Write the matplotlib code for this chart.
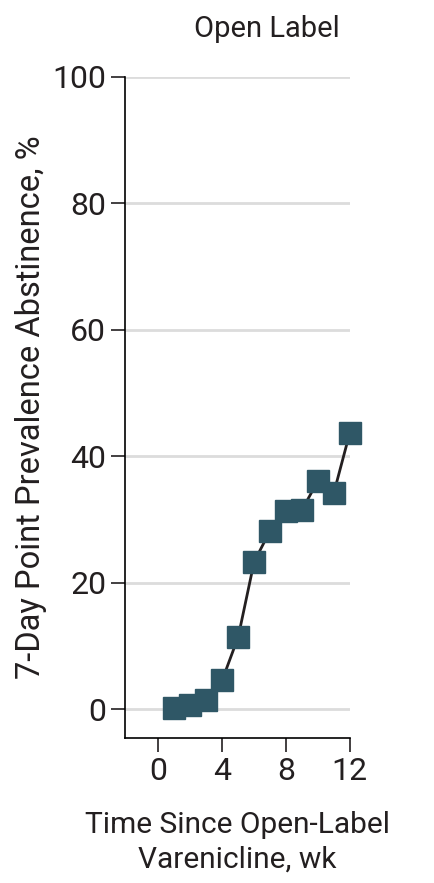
import matplotlib
matplotlib.use("Agg")
import matplotlib.pyplot as plt

# datos
semanas = [1, 2, 3, 4, 5, 6, 7, 8, 9, 10, 11, 12]
abstinencia = [0.2, 0.6, 1.4, 4.6, 11.4, 23.3, 28.2, 31.3, 31.5, 36.1, 34.2, 43.7]
xticks = [0, 4, 8, 12]
yticks = [0, 20, 40, 60, 80, 100]

plt.rcParams['font.family'] = ['Roboto', 'DejaVu Sans']

fig = plt.figure(figsize=(4.34, 8.83), dpi=100)
ax = fig.add_axes([0.288, 0.164, 0.518, 0.749])

for y in yticks:
    ax.axhline(y, color='#dcdcdc', lw=2, zorder=0)

ax.plot(semanas, abstinencia, color='#231f20', lw=2, zorder=2)
ax.plot(semanas, abstinencia, ls='none', marker='s', ms=16, color='#2f5766',
        mec='#2f5766', zorder=3, clip_on=False)

ax.set_xlim(-2.1, 12)
ax.set_ylim(-4.6, 100)
ax.set_xticks(xticks)
ax.set_yticks(yticks)
ax.tick_params(labelsize=23, length=10, width=1.2, color='#231f20', labelcolor='#231f20')

for s in ['top', 'right']:
    ax.spines[s].set_visible(False)
ax.spines['left'].set_linewidth(1.2)
ax.spines['bottom'].set_linewidth(1.2)

# título un poco a la derecha, como en el original
fig.text(267 / 434, 1 - 29 / 883, 'Open Label', fontsize=21, color='#231f20',
         ha='center', va='center')
ax.set_ylabel('7-Day Point Prevalence Abstinence, %', fontsize=23.5, color='#231f20')
ax.set_xlabel('Time Since Open-Label\nVarenicline, wk', fontsize=21.5, color='#231f20',
              labelpad=18, linespacing=1.3)

fig.savefig('out.png', dpi=100)
